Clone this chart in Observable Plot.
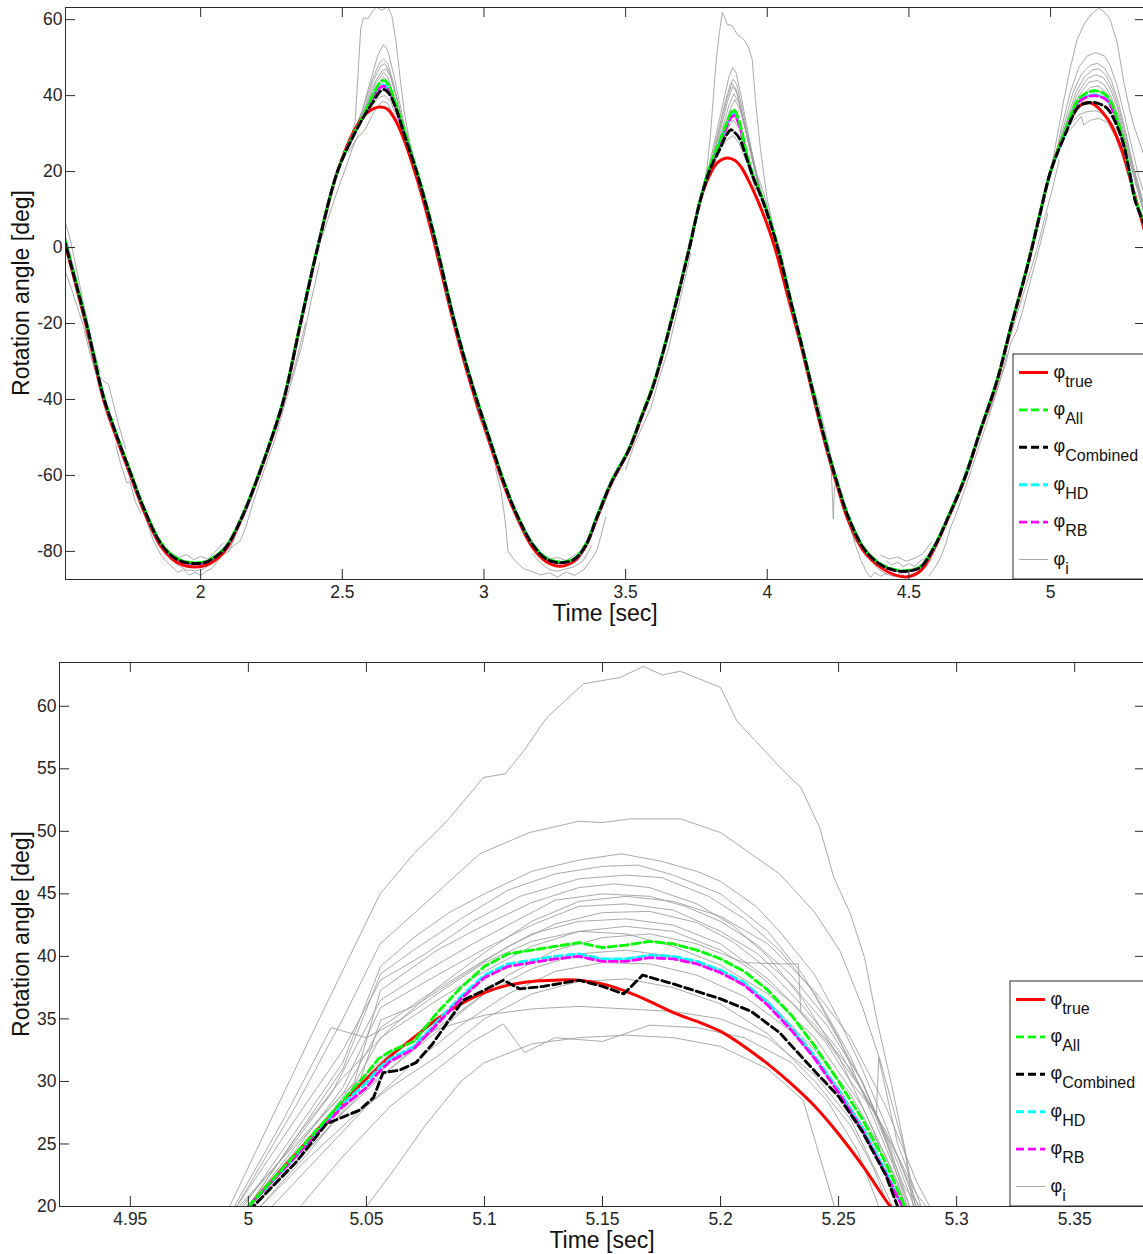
<!DOCTYPE html>
<html><head><meta charset="utf-8">
<script src="https://cdn.jsdelivr.net/npm/d3@7"></script>
<script src="https://cdn.jsdelivr.net/npm/@observablehq/plot@0.6"></script>
<style>
html,body{margin:0;padding:0;background:#fff;overflow:hidden;width:1143px;height:1254px;}
#chart{width:1150px;}
#chart svg{display:block;}
</style></head><body><div id="chart"></div>
<script>
// ---------- labels & ticks ----------
const xLabel = "Time [sec]";
const yLabel = "Rotation angle [deg]";
const legendSubs = ["true", "All", "Combined", "HD", "RB", "i"];
const xTicksTop = [2, 2.5, 3, 3.5, 4, 4.5, 5];
const yTicksTop = [-80, -60, -40, -20, 0, 20, 40, 60];
const xTicksBottom = [4.95, 5, 5.05, 5.1, 5.15, 5.2, 5.25, 5.3, 5.35];
const yTicksBottom = [20, 25, 30, 35, 40, 45, 50, 55, 60];

// ---------- top panel: true angle ----------
const trueTop = [[1.523,0.5],[1.56,-10],[1.6,-21.8],[1.657,-40],[1.7,-49.5],[1.752,-60],[1.8,-69.5],[1.858,-78.5],[1.9,-82],[1.94,-83.7],[1.98,-84.1],[2.02,-83.6],[2.06,-81.8],[2.094,-79],[2.15,-70.5],[2.205,-60],[2.25,-50.5],[2.294,-40],[2.353,-20],[2.413,0],[2.483,20],[2.54,30.5],[2.58,35],[2.61,36.6],[2.635,37],[2.66,36.4],[2.69,33.2],[2.72,28],[2.76,19],[2.8,8.5],[2.829,0],[2.888,-18.3],[2.953,-35.9],[3.029,-53.5],[3.07,-62.5],[3.117,-71.1],[3.17,-78.8],[3.22,-82.7],[3.27,-83.9],[3.32,-82.5],[3.36,-78.5],[3.4,-71.1],[3.45,-62],[3.511,-53.5],[3.555,-45],[3.6,-35.9],[3.665,-18.3],[3.723,-0.6],[3.764,12.6],[3.795,18.8],[3.823,22.3],[3.858,23.6],[3.885,23],[3.906,21.4],[3.935,17.5],[3.965,12.6],[4.0,6],[4.029,-0.6],[4.075,-13.5],[4.123,-27],[4.165,-40],[4.211,-53.5],[4.25,-63.5],[4.282,-71.1],[4.341,-80],[4.4,-84.2],[4.45,-86.2],[4.494,-86.7],[4.54,-85.2],[4.588,-79.5],[4.64,-71],[4.694,-61.4],[4.753,-48.2],[4.812,-35],[4.859,-21.3],[4.918,-5],[4.96,8],[5.0,20],[5.05,30.2],[5.1,37.1],[5.14,38.1],[5.2,34],[5.25,26],[5.27,21],[5.3,13],[5.335,3.5]];

// ---------- top panel: estimates on a shared time grid ----------
const tEstTop = [1.523,1.56,1.6,1.657,1.7,1.752,1.8,1.858,1.9,1.94,1.98,2.02,2.06,2.094,2.15,2.205,2.25,2.294,2.353,2.413,2.483,2.54,2.58,2.61,2.632,2.647,2.665,2.69,2.72,2.76,2.8,2.835,2.89,2.955,3.03,3.07,3.117,3.17,3.22,3.27,3.32,3.36,3.4,3.45,3.511,3.555,3.6,3.665,3.723,3.764,3.8,3.83,3.855,3.872,3.882,3.9,3.925,3.95,3.975,4.0,4.04,4.08,4.125,4.167,4.213,4.252,4.285,4.343,4.4,4.45,4.494,4.54,4.588,4.64,4.694,4.753,4.812,4.859,4.918,4.96,5.0,5.05,5.1,5.14,5.165,5.2,5.25,5.278,5.3,5.335];
const allTop = [1.5,-9,-20.8,-39,-48.5,-59,-68.5,-77.5,-81,-82.6, -83,-82.6,-80.8,-78.2,-70,-59.5,-50,-39.5,-19.5,0.3, 20,29.8,35.5,40.5,43.3,44,42.5,37.5,30.5,21, 10.5,0,-17.5,-35,-52.5,-61.5,-70.3,-77.8,-81.7,-82.8, -81.8,-78,-70.5,-61.5,-53,-44.5,-35.5,-18,-0.5,12.8, 22,27.5,32.5,35.5,36.3,33.5,25.5,19,14.5,9.5, -0.5,-13,-26.5,-39.5,-53,-63,-70.5,-79.3,-83.3,-84.8, -85,-84,-78.8,-70.5,-61,-47.8,-34.6,-21,-4.7,8.3, 20,30.5,39.2,41.1,41.2,39.8,30,20,12.5,6];
const combinedTop = [1,-9.5,-21,-39.3,-48.8,-59.3,-68.8,-77.8,-81.3,-82.8, -83.2,-82.8,-81,-78.5,-70.3,-59.8,-50.3,-39.8,-19.8,0, 20,29.5,35,38.5,41,41.6,40.5,36.5,29.5,20.5, 10,-0.3,-17.8,-35.3,-52.8,-61.8,-70.5,-78,-82,-83, -82,-78.3,-70.8,-61.8,-53.3,-44.8,-35.8,-18.3,-0.8,12.5, 21,25.5,29.5,31,30.5,29,24,18.5,14,9, -1,-13.3,-26.8,-39.8,-53.3,-63.3,-70.8,-79.5,-83.5,-85, -85.2,-84.2,-79,-70.8,-61.3,-48,-34.8,-21.2,-5,8, 20,29.5,37.2,38.2,38,36.6,29,20,12,5.5];
const hdTop = [1.3,-9.2,-21,-39.2,-48.7,-59.2,-68.7,-77.7,-81.2,-82.7, -83.1,-82.7,-80.9,-78.3,-70.2,-59.7,-50.2,-39.7,-19.7,0.2, 20,29.7,35.3,39.8,42.3,42.8,41.5,36.8,30,20.8, 10.3,-0.2,-17.7,-35.2,-52.7,-61.7,-70.4,-77.9,-81.8,-82.9, -81.9,-78.1,-70.6,-61.6,-53.1,-44.6,-35.6,-18.1,-0.6,12.7, 21.8,27,31.8,34.5,35.2,32.8,25,18.8,14.3,9.3, -0.6,-13.1,-26.6,-39.6,-53.1,-63.1,-70.6,-79.4,-83.4,-84.9, -85.1,-84.1,-78.9,-70.6,-61.1,-47.9,-34.7,-21.1,-4.8,8.2, 20,29.9,38.5,40.1,40.1,38.9,29.3,20,12.3,5.8];
const rbTop = [1.2,-9.3,-21.1,-39.3,-48.8,-59.3,-68.8,-77.8,-81.3,-82.8, -83.2,-82.8,-81,-78.4,-70.3,-59.8,-50.3,-39.8,-19.8,0.1, 20,29.7,35.2,39.6,42,42.5,41.2,36.6,29.9,20.7, 10.2,-0.3,-17.8,-35.3,-52.8,-61.8,-70.5,-78,-81.9,-83, -82,-78.2,-70.7,-61.7,-53.2,-44.7,-35.7,-18.2,-0.7,12.6, 21.7,26.8,31.5,34.2,34.8,32.5,24.8,18.7,14.2,9.2, -0.7,-13.2,-26.7,-39.7,-53.2,-63.2,-70.7,-79.5,-83.5,-85, -85.2,-84.2,-79,-70.7,-61.2,-48,-34.8,-21.2,-4.9,8.1, 20,29.7,38.3,39.9,39.9,38.7,29.1,20,12.2,5.7];

// ---------- top panel: individual estimates (phi_i), visible stretches ----------
const phiITop = [
 [[1.523,6.5],[1.54,2],[1.56,-5],[1.59,-16],[1.62,-26],[1.645,-33]],
 [[1.523,-6.5],[1.54,-10],[1.56,-14.5],[1.59,-21.5],[1.62,-28],[1.65,-37]],
 [[1.523,3],[1.545,-3.5],[1.575,-12],[1.6,-19.5]],
 [[1.59,-22],[1.61,-28],[1.63,-33],[1.655,-35],[1.675,-36],[1.69,-40.5],[1.71,-46.5],[1.735,-53]],
 [[1.7,-52],[1.72,-57.5],[1.74,-62],[1.75,-61.5],[1.77,-67],[1.79,-70]],
 [[1.8,-70],[1.83,-76.5],[1.86,-81],[1.89,-83.5],[1.92,-85.5],[1.94,-84.8],[1.96,-86.2],[1.98,-85.5],[2.0,-86.3],[2.02,-85.2],[2.04,-84.5],[2.06,-82.5],[2.08,-80.8],[2.1,-80],[2.12,-76.5]],
 [[1.86,-78.5],[1.89,-81.8],[1.92,-83.6],[1.95,-84.9],[1.98,-85.1],[2.01,-84.6],[2.04,-83.2],[2.07,-80.6],[2.1,-77]],
 [[1.9,-80.6],[1.925,-81.6],[1.95,-80.8],[1.975,-82.2],[2.0,-81.3],[2.025,-82],[2.05,-80.2],[2.08,-77.8]],
 [[1.93,-83],[1.95,-84],[1.97,-83.2],[1.99,-84.3],[2.01,-83.1],[2.03,-82.8]],
 [[2.1,-79.5],[2.125,-78],[2.14,-77.2],[2.16,-73.5],[2.19,-66],[2.22,-59.5],[2.26,-51],[2.3,-40.5],[2.33,-33],[2.36,-25],[2.39,-14],[2.42,-4]],
 [[2.2,-61],[2.24,-53],[2.27,-46],[2.3,-38],[2.32,-34.5],[2.34,-29],[2.37,-20]],
 [[2.43,3],[2.46,10],[2.49,16.5],[2.51,20.5],[2.535,26],[2.555,29.5]],
 [[2.53,29],[2.545,33],[2.555,45],[2.565,57.5],[2.575,60.5],[2.59,60.2],[2.605,62],[2.62,63.3],[2.64,62.5],[2.66,63.5],[2.675,61],[2.69,54],[2.705,44],[2.72,35],[2.74,27],[2.77,18]],
 [[2.54,30],[2.57,36],[2.6,44],[2.625,50.5],[2.645,53.4],[2.66,52],[2.68,46],[2.7,39],[2.72,32],[2.75,24],[2.78,15]],
 [[2.54,30],[2.575,37],[2.605,44],[2.63,48.5],[2.645,49.6],[2.66,48.5],[2.68,43.5],[2.7,37],[2.725,29],[2.76,20]],
 [[2.55,31.5],[2.58,37],[2.61,44],[2.635,47.8],[2.65,48.4],[2.665,46.5],[2.685,41.5],[2.71,34],[2.74,26],[2.77,17]],
 [[2.545,30.5],[2.58,36.5],[2.615,43.5],[2.64,46.5],[2.655,47],[2.67,45],[2.69,40],[2.715,32.5],[2.75,23.5]],
 [[2.55,31],[2.585,37],[2.62,43.5],[2.645,46],[2.66,45],[2.68,40.5],[2.7,35.5],[2.73,27.5],[2.76,20]],
 [[2.55,31],[2.59,37.5],[2.625,43],[2.645,45],[2.665,43.5],[2.685,38.5],[2.71,32],[2.74,24.5]],
 [[2.56,32],[2.6,37],[2.63,39.5],[2.65,40],[2.67,38.5],[2.7,33],[2.73,26]],
 [[2.52,25],[2.55,28.5],[2.58,31],[2.61,35.5],[2.64,38.5],[2.66,38],[2.69,33.5],[2.72,27.5],[2.75,21]],
 [[2.83,-2],[2.86,-8],[2.88,-13.5],[2.9,-20],[2.92,-27.5],[2.935,-29.5],[2.95,-34],[2.97,-41.5],[2.99,-46]],
 [[3.04,-58],[3.06,-64],[3.075,-72],[3.085,-80],[3.11,-82.5],[3.14,-84.5],[3.17,-85.3],[3.2,-86.2],[3.23,-85.6],[3.26,-86.8],[3.29,-85.4],[3.32,-86.3],[3.35,-85],[3.38,-82],[3.4,-79.5],[3.43,-71]],
 [[3.17,-80.5],[3.2,-83],[3.23,-84.8],[3.26,-85.2],[3.29,-84.6],[3.32,-84],[3.35,-82.5],[3.38,-78.5]],
 [[3.2,-81],[3.23,-82],[3.26,-81.6],[3.29,-82.4],[3.32,-81],[3.35,-79.4]],
 [[3.5,-58.5],[3.53,-52],[3.56,-47],[3.59,-42],[3.62,-34],[3.65,-27],[3.68,-17.5],[3.71,-8],[3.73,-1.5]],
 [[3.776,16],[3.788,21.4],[3.8,30.2],[3.818,47.8],[3.83,56],[3.841,61.9],[3.85,60.5],[3.858,58.8],[3.876,58.4],[3.894,56.1],[3.917,54.8],[3.935,52.5],[3.947,49.5],[3.958,39],[3.976,25.8],[4.0,12.6],[4.02,6]],
 [[3.79,20],[3.82,30],[3.85,40],[3.865,45],[3.878,47.4],[3.89,46],[3.91,39],[3.935,29],[3.96,20],[3.99,11]],
 [[3.795,20.5],[3.825,30],[3.852,38.5],[3.87,43],[3.88,44.3],[3.892,43],[3.912,36.5],[3.94,27],[3.965,18.5],[3.995,9.5]],
 [[3.8,21.5],[3.83,30.5],[3.857,39],[3.875,43.2],[3.888,42],[3.91,35.5],[3.935,27],[3.96,19],[3.99,10.5]],
 [[3.8,21.5],[3.835,31],[3.86,38.5],[3.878,42.4],[3.895,40.5],[3.915,34],[3.94,25.5],[3.97,16],[4.0,7.5]],
 [[3.805,22],[3.84,31],[3.865,37.5],[3.882,40.5],[3.9,38],[3.92,32],[3.945,24.5],[3.975,15]],
 [[3.81,22.5],[3.845,31],[3.87,36.5],[3.885,39],[3.905,36],[3.93,29],[3.96,20]],
 [[3.81,21.5],[3.84,28],[3.865,32],[3.88,33.5],[3.9,31.5],[3.925,26],[3.955,18]],
 [[3.8,20],[3.83,25.5],[3.86,28.5],[3.88,29.5],[3.9,27.5],[3.93,22],[3.96,15]],
 [[3.96,20],[3.985,15],[4.01,8],[4.035,1],[4.06,-8],[4.08,-12]],
 [[4.12,-24.5],[4.15,-33.5],[4.18,-41],[4.2,-47],[4.222,-54],[4.228,-62],[4.233,-71.5],[4.237,-63.5],[4.245,-61],[4.265,-66],[4.29,-72.5],[4.31,-77.5]],
 [[4.29,-73],[4.31,-78],[4.33,-82.2],[4.35,-85.5],[4.365,-86.8],[4.38,-85.5],[4.4,-86.5],[4.42,-85.8]],
 [[4.36,-81.5],[4.39,-84.5],[4.42,-86],[4.45,-86.6],[4.47,-85.7],[4.49,-87],[4.51,-86],[4.53,-85.3],[4.56,-84.2],[4.58,-82]],
 [[4.42,-82.5],[4.44,-83.5],[4.46,-82.8],[4.48,-84],[4.5,-83.2],[4.52,-84],[4.54,-82.5],[4.56,-81.8],[4.58,-79.5]],
 [[4.4,-81],[4.43,-82],[4.46,-81.5],[4.49,-82.6],[4.52,-81.8],[4.55,-80.6],[4.58,-77.5]],
 [[4.57,-86.5],[4.59,-84.5],[4.612,-81.6],[4.63,-78],[4.647,-73.7],[4.671,-69.3],[4.7,-63],[4.74,-54],[4.78,-45],[4.82,-35.5],[4.847,-28]],
 [[4.84,-28],[4.87,-20.5],[4.9,-13],[4.93,-6],[4.955,0.5],[4.98,8],[5.01,16.5],[5.03,23]],
 [[4.78,-44],[4.81,-37.5],[4.84,-31],[4.86,-25],[4.88,-22],[4.9,-17],[4.93,-8.5],[4.96,0],[4.99,9]],
 [[5.0,20],[5.03,32],[5.047,39],[5.071,47.8],[5.094,54.8],[5.12,59],[5.145,61.5],[5.17,63],[5.19,62],[5.21,60.1],[5.235,54],[5.259,43.4],[5.28,36],[5.294,32],[5.315,27.5],[5.335,23]],
 [[5.01,22],[5.04,32],[5.07,41],[5.1,47.5],[5.13,50.5],[5.16,51.3],[5.19,50.5],[5.21,48],[5.235,42.5],[5.26,35],[5.285,27],[5.31,19],[5.335,13]],
 [[5.015,23],[5.05,33],[5.08,41],[5.11,45.8],[5.14,48],[5.165,48.5],[5.19,47.3],[5.215,44],[5.24,38],[5.265,30.5],[5.29,22],[5.32,14],[5.335,10]],
 [[5.02,24],[5.055,33],[5.09,41],[5.12,45],[5.15,46.8],[5.17,47],[5.195,45.5],[5.22,41.5],[5.245,35.5],[5.27,28],[5.3,18.5],[5.335,9.5]],
 [[5.02,24.5],[5.06,33.5],[5.095,40.5],[5.13,44.5],[5.16,45.5],[5.185,44.8],[5.21,42],[5.235,37],[5.26,30],[5.29,21],[5.335,8.5]],
 [[5.025,25.5],[5.065,34],[5.1,40],[5.135,43.5],[5.165,44],[5.19,42.8],[5.215,39.5],[5.24,34.5],[5.265,27.5],[5.3,17],[5.335,8]],
 [[5.03,26.5],[5.07,34.5],[5.105,39.5],[5.14,42.2],[5.17,42.5],[5.2,40.5],[5.225,37],[5.25,31],[5.28,22.5],[5.335,7.5]],
 [[5.04,28.5],[5.07,32.5],[5.1,35],[5.13,35.8],[5.16,36],[5.19,35],[5.22,32.5],[5.25,27],[5.28,19]],
 [[5.05,29.5],[5.08,32],[5.108,34.5],[5.117,32.3],[5.14,33.5],[5.17,34],[5.2,33],[5.23,29],[5.26,22.5]]
];

// ---------- bottom panel (zoom on the last peak) ----------
const trueBottom = [[5.0,20],[5.01,22.1],[5.02,24.2],[5.03,26.3],[5.04,28.3],[5.05,30.2],[5.06,32],[5.07,33.5],[5.08,35],[5.09,36.2],[5.1,37.1],[5.11,37.7],[5.12,38],[5.13,38.1],[5.14,38.1],[5.15,37.8],[5.16,37.2],[5.17,36.4],[5.18,35.5],[5.19,34.8],[5.2,34],[5.21,32.8],[5.22,31.4],[5.23,29.8],[5.24,28],[5.25,25.8],[5.26,23.3],[5.27,20.5],[5.272,20]];
const allBottom = [[5.0,20],[5.02,24.2],[5.04,28.5],[5.05,30.6],[5.055,31.8],[5.06,32.4],[5.07,33.2],[5.08,35.5],[5.09,37.5],[5.1,39.2],[5.11,40.2],[5.12,40.5],[5.13,40.8],[5.14,41.1],[5.15,40.7],[5.16,40.9],[5.17,41.2],[5.18,41],[5.19,40.5],[5.2,39.8],[5.21,38.8],[5.22,37.3],[5.23,35.3],[5.24,32.8],[5.25,30],[5.26,27],[5.27,23.5],[5.278,20]];
const combinedBottom = [[5.002,20],[5.02,23.5],[5.033,26.6],[5.047,27.7],[5.053,28.7],[5.057,30.7],[5.064,30.9],[5.071,31.5],[5.078,33],[5.085,34.9],[5.091,36.5],[5.1,37.3],[5.108,38.1],[5.115,37.4],[5.125,37.6],[5.14,38.1],[5.15,37.6],[5.159,37],[5.167,38.5],[5.18,37.8],[5.2,36.6],[5.213,35.6],[5.225,33.9],[5.24,30.8],[5.25,28.8],[5.26,26],[5.27,22.5],[5.275,20]];
const hdBottom = [[5.0,20],[5.02,24],[5.04,28.2],[5.05,29.9],[5.055,31],[5.06,31.8],[5.07,32.8],[5.08,34.8],[5.09,36.8],[5.1,38.5],[5.11,39.4],[5.12,39.7],[5.13,40],[5.14,40.2],[5.15,39.8],[5.16,39.8],[5.17,40.1],[5.18,40],[5.19,39.6],[5.2,38.9],[5.21,37.9],[5.22,36.3],[5.23,34.3],[5.24,32],[5.25,29.3],[5.26,26.3],[5.27,22.8],[5.277,20]];
const rbBottom = [[5.0,20],[5.02,24],[5.04,28],[5.05,29.5],[5.055,30.7],[5.06,31.6],[5.07,32.6],[5.08,34.6],[5.09,36.6],[5.1,38.3],[5.11,39.2],[5.12,39.5],[5.13,39.8],[5.14,40],[5.15,39.6],[5.16,39.6],[5.17,39.9],[5.18,39.8],[5.19,39.4],[5.2,38.7],[5.21,37.7],[5.22,36.1],[5.23,34.1],[5.24,31.8],[5.25,29.1],[5.26,26.1],[5.27,22.6],[5.277,20]];
const phiIBottom = [
 [[4.992,20],[5.03,35],[5.0558,45],[5.07,48.2],[5.084,50.8],[5.0996,54.3],[5.1088,54.6],[5.1165,56.4],[5.1264,59.1],[5.142,61.8],[5.1575,62.3],[5.1674,63.2],[5.1752,62.5],[5.183,62.8],[5.2,61.5],[5.207,58.8],[5.2253,55.1],[5.234,53.5],[5.242,50.3],[5.248,46.3],[5.255,43.4],[5.261,39.9],[5.266,35.1],[5.272,30.1],[5.278,24.7],[5.283,19.5]],
 [[4.995,20],[5.02,28],[5.04,35],[5.0558,41],[5.07,43.4],[5.084,45.8],[5.098,48.2],[5.119,49.9],[5.14,50.8],[5.15,50.7],[5.162,51],[5.183,51],[5.2,49.9],[5.225,46.6],[5.24,43.5],[5.2507,40.4],[5.26,36],[5.2676,31.7],[5.278,24.5],[5.282,19.5]],
 [[4.998,20],[5.02,26],[5.04,31.5],[5.056,39.2],[5.07,41.5],[5.085,43.5],[5.1,45],[5.12,46.8],[5.14,47.7],[5.158,48.2],[5.175,47.6],[5.19,46.8],[5.2,46],[5.215,44],[5.225,42],[5.24,38.5],[5.25,35],[5.26,31],[5.27,26.5],[5.279,22],[5.284,19.5]],
 [[5.0,20],[5.02,25.5],[5.04,31],[5.056,38.6],[5.07,40.5],[5.09,43],[5.11,45.3],[5.13,46.6],[5.15,47.2],[5.165,47.3],[5.18,46.5],[5.2,45],[5.22,42],[5.235,38.5],[5.25,33.5],[5.265,27],[5.277,21.5],[5.281,19.5]],
 [[4.995,20],[5.02,27],[5.04,32.5],[5.056,38.1],[5.075,40.2],[5.095,42.8],[5.115,44.8],[5.14,46.2],[5.16,46.5],[5.175,46.3],[5.195,44.8],[5.21,43],[5.225,40.5],[5.24,37],[5.255,32],[5.268,26.5],[5.28,19.5]],
 [[5.003,20],[5.025,25],[5.045,30],[5.056,37.3],[5.08,40.5],[5.1,42.5],[5.12,44.3],[5.14,45.5],[5.155,45.8],[5.17,45.5],[5.19,44.2],[5.205,42.5],[5.22,40],[5.235,36.5],[5.25,32],[5.265,26],[5.276,19.5]],
 [[4.997,20],[5.015,24],[5.035,29],[5.056,36.5],[5.075,38.8],[5.095,41],[5.115,43],[5.13,44.5],[5.15,45],[5.17,44.8],[5.185,44],[5.2,42.8],[5.215,41],[5.23,38.5],[5.245,35],[5.26,30],[5.272,24.5],[5.281,19.5]],
 [[5.0,20],[5.02,24.5],[5.04,29.5],[5.056,35.9],[5.08,38.5],[5.1,40.6],[5.12,42.5],[5.14,44],[5.16,44.2],[5.18,43.7],[5.2,42],[5.215,40.3],[5.23,37.8],[5.245,34.5],[5.26,30],[5.275,23.5],[5.283,19.5]],
 [[5.005,20],[5.025,24.2],[5.045,28.8],[5.056,34.9],[5.07,36],[5.09,38.4],[5.11,40.8],[5.13,42.6],[5.15,43.5],[5.17,43.6],[5.19,42.7],[5.205,41.2],[5.22,39],[5.235,36],[5.25,32.5],[5.265,27.5],[5.278,21.5],[5.287,19.5]],
 [[4.996,20],[5.02,25],[5.04,29],[5.056,34.3],[5.075,36.8],[5.1,39.7],[5.12,41.8],[5.14,42.8],[5.16,43],[5.18,42.5],[5.2,41],[5.22,38.2],[5.24,34.5],[5.255,31],[5.27,26],[5.283,21],[5.289,19.5]],
 [[5.0,20],[5.02,24],[5.04,28.2],[5.056,33.5],[5.08,36.5],[5.1,38.8],[5.12,40.8],[5.14,42],[5.16,42.4],[5.18,42],[5.2,40.5],[5.215,38.7],[5.23,36.3],[5.245,33.2],[5.26,29.3],[5.275,24],[5.285,19.5]],
 [[5.002,20],[5.03,25.5],[5.05,29.5],[5.07,32.5],[5.09,35.5],[5.11,38.5],[5.13,40.5],[5.15,41.5],[5.17,41.8],[5.19,41],[5.21,39.5],[5.225,39.4],[5.233,39.4],[5.234,35.5],[5.245,33],[5.255,30],[5.266,27.4],[5.267,31.9],[5.275,25],[5.286,19.5]],
 [[5.0,20],[5.02,23.5],[5.04,27.5],[5.06,31],[5.08,34.3],[5.1,37],[5.12,39],[5.14,40.2],[5.16,40.5],[5.18,40],[5.2,38.8],[5.22,36.5],[5.24,32.5],[5.255,29],[5.27,24],[5.28,19.5]],
 [[5.01,20],[5.03,24],[5.05,28],[5.07,31.5],[5.09,34.5],[5.11,37],[5.13,38.8],[5.15,39.5],[5.17,39.4],[5.19,38.5],[5.21,36.8],[5.23,34],[5.25,29.5],[5.265,25],[5.276,19.5]],
 [[5.005,20],[5.025,23.8],[5.045,27.3],[5.06,29.5],[5.08,32],[5.1,35],[5.12,37],[5.14,38],[5.16,38.2],[5.18,37.5],[5.2,36.2],[5.22,33.8],[5.24,30],[5.255,26.5],[5.265,23],[5.272,19.5]],
 [[5.0,20],[5.02,24.8],[5.04,29],[5.06,32.2],[5.08,34.2],[5.1,35.3],[5.12,35.8],[5.14,36],[5.16,35.8],[5.18,35.6],[5.2,35],[5.22,33.5],[5.24,30.5],[5.255,27],[5.268,22],[5.274,19.5]],
 [[5.022,20],[5.04,24],[5.06,28],[5.08,31],[5.095,33.2],[5.108,34.6],[5.117,32.3],[5.13,33.5],[5.15,33.2],[5.17,34.5],[5.19,34.3],[5.21,33.5],[5.23,31.5],[5.245,28.5],[5.258,24.5],[5.268,19.5]],
 [[5.05,20],[5.06,22.5],[5.075,26.5],[5.09,30],[5.1,31.5],[5.12,33],[5.14,33.5],[5.16,33.7],[5.18,33.5],[5.2,32.8],[5.22,31],[5.235,28.5],[5.249,19.5]],
 [[4.994,20],[5.015,27],[5.035,34.3],[5.05,33.5],[5.065,35],[5.08,37],[5.1,39.5],[5.12,41.2],[5.14,42],[5.16,41.8],[5.18,40.8],[5.2,39.3],[5.22,37],[5.24,33.5],[5.26,28],[5.275,22],[5.279,19.5]],
 [[5.0,20],[5.02,25.5],[5.04,30.3],[5.06,34.2],[5.08,37.5],[5.1,40.3],[5.12,42.8],[5.14,44.4],[5.16,44.8],[5.18,44.4],[5.2,43.2],[5.22,41],[5.24,37.2],[5.255,33.5],[5.27,28],[5.283,22],[5.29,19.5]]
];

// ---------- drawing ----------
const FONT = "'Liberation Sans', Arial, Helvetica, sans-serif";
const AXIS = "#2b2b2b";
const GRAY = "#9b9b9b";
const DASH = "8,4";
const zipSeries = (t, v) => t.map((ti, i) => [ti, v[i]]);

function panel(o) {
  const W = 1150, marginRight = 5;
  const plotW = W - o.marginLeft - marginRight;
  const plotH = o.height - o.marginTop - o.marginBottom;
  const grayFlat = o.grays.flatMap((s, i) => s.map(([t, v]) => ({t, v, id: i})));
  const ln = (data, stroke, dash, width, curve, offset) =>
    Plot.line(data, {x: d => d[0], y: d => d[1], stroke, strokeWidth: width,
      strokeDasharray: dash, strokeDashoffset: offset || 0, curve, clip: true});
  const svg = Plot.plot({
    width: W, height: o.height, marginTop: o.marginTop, marginBottom: o.marginBottom,
    marginLeft: o.marginLeft, marginRight,
    x: {domain: o.xDomain}, y: {domain: o.yDomain},
    style: {fontFamily: FONT, fontSize: "17.5px", color: "#262626", background: "#fff", overflow: "visible"},
    marks: [
      Plot.line(grayFlat, {x: "t", y: "v", z: "id", stroke: GRAY, strokeWidth: 0.85, clip: true}),
      ln(o.trueS, "#ff0000", null, 3, "catmull-rom"),
      ln(o.hdS, "#00ffff", DASH, 2.9, o.curve, 3),
      ln(o.rbS, "#ff00ff", DASH, 2.9, o.curve, 9),
      ln(o.allS, "#00ff00", DASH, 2.9, o.curve, 0),
      ln(o.combS, "#000000", DASH, 2.9, o.curve, 6),
      Plot.frame({stroke: AXIS}),
      Plot.tickX(o.xTicks, {x: d => d, stroke: AXIS, insetTop: plotH - 10}),
      Plot.tickX(o.xTicks, {x: d => d, stroke: AXIS, insetBottom: plotH - 10}),
      Plot.tickY(o.yTicks, {y: d => d, stroke: AXIS, insetRight: plotW - 10}),
      Plot.tickY(o.yTicks, {y: d => d, stroke: AXIS, insetLeft: plotW - 10}),
      Plot.axisX(o.xTicks, {tickSize: 0, tickPadding: 6, tickFormat: d => String(d), label: null}),
      Plot.axisY(o.yTicks, {tickSize: 0, tickPadding: 3, tickFormat: d => String(d), label: null})
    ]
  });
  const s = d3.select(svg);
  const frameBottom = o.height - o.marginBottom;
  const cx = (o.marginLeft + W - marginRight) / 2;
  s.append("text").attr("x", cx).attr("y", frameBottom + 42)
    .attr("text-anchor", "middle").attr("font-size", 23).attr("fill", "#111").text(xLabel);
  s.append("text").attr("transform", `translate(29,${(o.marginTop + frameBottom) / 2}) rotate(-90)`)
    .attr("text-anchor", "middle").attr("font-size", 23).attr("fill", "#111").text(yLabel);
  // legend (positions relative to this panel's svg)
  const L = o.legendLeft, T = o.legendTop;
  const g = s.append("g").attr("text-anchor", "start");
  g.append("rect").attr("x", L).attr("y", T).attr("width", W - marginRight - L + 4)
    .attr("height", frameBottom - T).attr("fill", "#fff").attr("stroke", AXIS).attr("stroke-width", 1);
  const styles = [
    {stroke: "#ff0000", dash: null, w: 3},
    {stroke: "#00ff00", dash: DASH, w: 2.9},
    {stroke: "#000000", dash: DASH, w: 2.9},
    {stroke: "#00ffff", dash: DASH, w: 2.9},
    {stroke: "#ff00ff", dash: DASH, w: 2.9},
    {stroke: GRAY, dash: null, w: 0.85}
  ];
  legendSubs.forEach((sub, k) => {
    const ry = T + 18.5 + k * 37.4;
    g.append("line").attr("x1", L + 6).attr("x2", L + 35).attr("y1", ry).attr("y2", ry)
      .attr("stroke", styles[k].stroke).attr("stroke-width", styles[k].w)
      .attr("stroke-dasharray", styles[k].dash);
    const t = g.append("text").attr("x", L + 40.5).attr("y", ry + 5)
      .attr("text-anchor", "start").attr("font-size", 18).attr("fill", "#111");
    t.append("tspan").text("φ");
    t.append("tspan").attr("dy", 9).attr("font-size", 16).text(sub);
  });
  return svg;
}

const chart = document.getElementById("chart");
chart.appendChild(panel({
  height: 640, marginTop: 7, marginBottom: 61, marginLeft: 65,
  xDomain: [1.523, 5.335], yDomain: [-87.4, 63.2],
  xTicks: xTicksTop, yTicks: yTicksTop,
  trueS: trueTop,
  allS: zipSeries(tEstTop, allTop), combS: zipSeries(tEstTop, combinedTop),
  hdS: zipSeries(tEstTop, hdTop), rbS: zipSeries(tEstTop, rbTop),
  grays: phiITop, curve: "catmull-rom",
  legendLeft: 1013, legendTop: 354
}));
chart.appendChild(panel({
  height: 614, marginTop: 22, marginBottom: 48, marginLeft: 59,
  xDomain: [4.92, 5.38], yDomain: [20, 63.5],
  xTicks: xTicksBottom, yTicks: yTicksBottom,
  trueS: trueBottom, allS: allBottom, combS: combinedBottom, hdS: hdBottom, rbS: rbBottom,
  grays: phiIBottom, curve: "linear",
  legendLeft: 1010, legendTop: 341
}));
</script></body></html>
